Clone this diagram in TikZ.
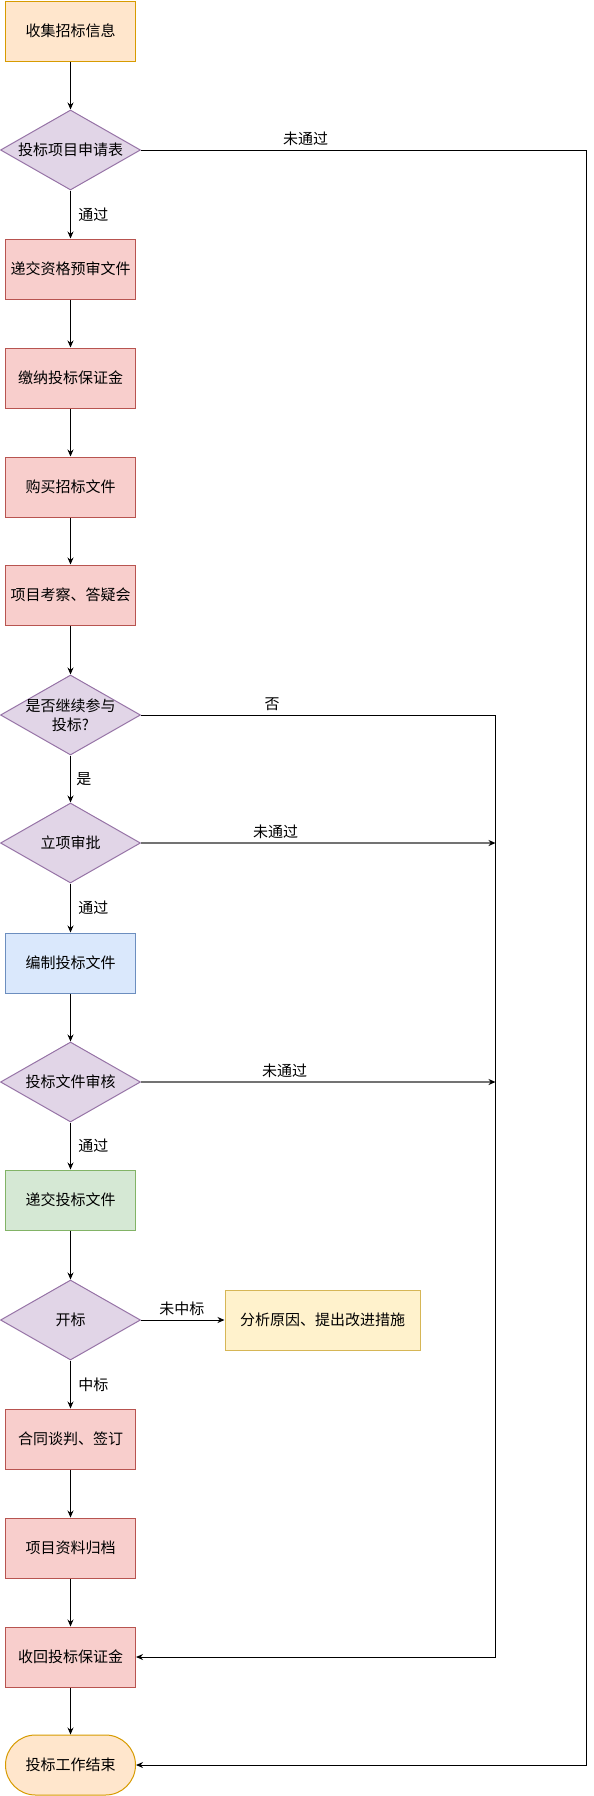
\documentclass[tikz,border=0pt]{standalone}
\usepackage{fontspec}
\setmainfont{Noto Sans CJK SC}
\usepackage{xcolor}
\usetikzlibrary{shapes.geometric}
\usetikzlibrary{arrows.meta}
\definecolor{orangeF}{HTML}{FFE6CC}
\definecolor{orangeD}{HTML}{D79B00}
\definecolor{purpleF}{HTML}{E1D5E7}
\definecolor{purpleD}{HTML}{9673A6}
\definecolor{redF}{HTML}{F8CECC}
\definecolor{redD}{HTML}{B85450}
\definecolor{blueF}{HTML}{DAE8FC}
\definecolor{blueD}{HTML}{6C8EBF}
\definecolor{greenF}{HTML}{D5E8D4}
\definecolor{greenD}{HTML}{82B366}
\definecolor{yellowF}{HTML}{FFF2CC}
\definecolor{yellowD}{HTML}{D6B656}

\begin{document}
\begin{tikzpicture}[x=1pt, y=-1pt, font=\fontsize{15}{19}\selectfont,
  box/.style={rectangle, line width=1pt, minimum width=130pt, minimum height=60pt, inner sep=0pt},
  redbox/.style={box, draw=redD, fill=redF},
  dec/.style={diamond, draw=purpleD, fill=purpleF, line width=1pt, minimum width=140pt, minimum height=80pt, inner sep=0pt},
  arr/.style={-{Stealth[length=7pt, width=6pt]}, line width=1pt},
  arrg/.style={-{Stealth[length=7pt, width=6pt, black]}, line width=1.2pt, draw=black!55}]
  \useasboundingbox (0,0) rectangle (594,1796);

  % main column
  \node[box, draw=orangeD, fill=orangeF] (n1) at (70.5,31) {收集招标信息};
  \node[dec, label={center:投标项目申请表}] (d1) at (70.5,150) {};
  \node[redbox] (n2) at (70.5,269) {递交资格预审文件};
  \node[redbox] (n3) at (70.5,378) {缴纳投标保证金};
  \node[redbox] (n4) at (70.5,487) {购买招标文件};
  \node[redbox] (n5) at (70.5,595) {项目考察、答疑会};
  \node[dec, label={[align=center]center:是否继续参与\\投标?}] (d2) at (70.5,715) {};
  \node[dec, label={center:立项审批}] (d3) at (70.5,843) {};
  \node[box, draw=blueD, fill=blueF] (n6) at (70.5,963) {编制投标文件};
  \node[dec, label={center:投标文件审核}] (d4) at (70.5,1082) {};
  \node[box, draw=greenD, fill=greenF] (n7) at (70.5,1200) {递交投标文件};
  \node[dec, label={center:开标}] (d5) at (70.5,1320) {};
  \node[box, draw=yellowD, fill=yellowF, minimum width=195pt] (n8) at (322.5,1320) {分析原因、提出改进措施};
  \node[redbox] (n9) at (70.5,1439) {合同谈判、签订};
  \node[redbox] (n10) at (70.5,1548) {项目资料归档};
  \node[redbox] (n11) at (70.5,1657) {收回投标保证金};
  \node[box, draw=orangeD, fill=orangeF, rounded corners=30pt] (end) at (70.5,1765) {投标工作结束};

  % return lines on the right
  \coordinate (r1) at (586,150);
  \coordinate (r2) at (495.5,715);

  \draw[arr] (n1) -- (d1);
  \draw[arr] (d1) -- node[right, xshift=4pt] {通过} (n2);
  \draw[arr] (n2) -- (n3);
  \draw[arr] (n3) -- (n4);
  \draw[arr] (n4) -- (n5);
  \draw[arr] (n5) -- (d2);
  \draw[arr] (d2) -- node[right, xshift=2pt] {是} (d3);
  \draw[arr] (d3) -- node[right, xshift=4pt] {通过} (n6);
  \draw[arr] (n6) -- (d4);
  \draw[arr] (d4) -- node[right, xshift=4pt] {通过} (n7);
  \draw[arr] (n7) -- (d5);
  \draw[arr] (d5) -- node[right, xshift=4pt] {中标} (n9);
  \draw[arr] (d5) -- node[above, pos=0.49] {未中标} (n8);
  \draw[arr] (n9) -- (n10);
  \draw[arr] (n10) -- (n11);
  \draw[arr] (n11) -- (end);

  \draw[arr] (d1.east) -- node[above, pos=0.37] {未通过} (r1) |- (end.east);
  \draw[arr] (d2.east) -- node[above, pos=0.37] {否} (r2) |- (n11.east);
  \draw[arrg] (d3.east) -- node[above, pos=0.38, black] {未通过} (d3.east -| r2);
  \draw[arrg] (d4.east) -- node[above, pos=0.405, black] {未通过} (d4.east -| r2);
\end{tikzpicture}
\end{document}
